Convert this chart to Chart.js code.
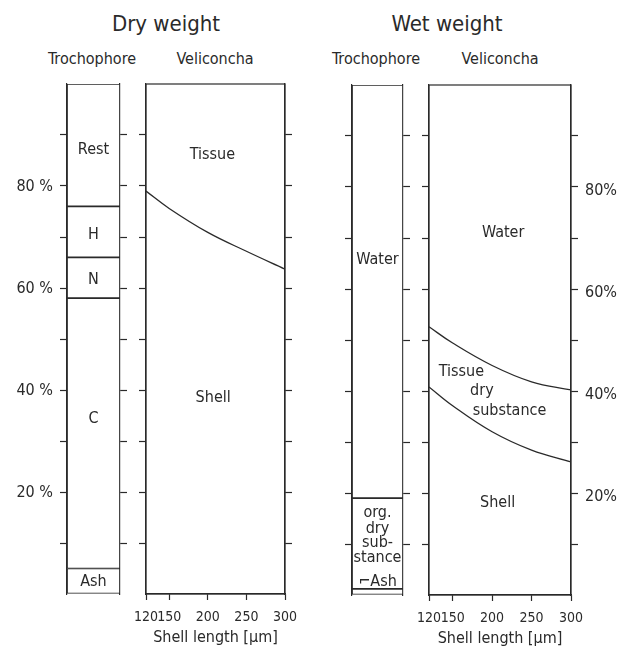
<!DOCTYPE html>
<html>
<head>
<meta charset="utf-8">
<script src="https://cdn.jsdelivr.net/npm/chart.js@4"></script>
<style>
  body { margin:0; background:#fff; width:623px; height:648px; position:relative; overflow:hidden;
         font-family:'DejaVu Sans Condensed','DejaVu Sans',sans-serif; color:#2a2a2a; }
  .box { position:absolute; }
  .t { position:absolute; white-space:nowrap; transform:translate(-50%,-50%); font-size:16px; }
  .title { font-size:22px; }
</style>
</head>
<body>
<div class="t title" style="left:166px;top:23px">Dry weight</div>
<div class="t" style="left:92px;top:58px">Trochophore</div>
<div class="t" style="left:215px;top:58px">Veliconcha</div>
<div class="t title" style="left:447px;top:23px">Wet weight</div>
<div class="t" style="left:376px;top:58px">Trochophore</div>
<div class="t" style="left:500px;top:58px">Veliconcha</div>

<script>
// values (percent of weight)
const shellLength = [120, 150, 200, 250, 300];
const dryTissueTop = [79, 75.6, 70.9, 67.2, 63.7];   // boundary shell / tissue
const wetWaterBottom = [52.6, 49.4, 45.0, 41.8, 40.2]; // boundary tissue / water
const wetShellTop = [40.8, 37.1, 32.0, 28.4, 26.1];  // boundary shell / tissue

const dryTrochParts = ['Ash', 'C', 'N', 'H', 'Rest'];
const dryTrochValues = [5, 53, 8, 10, 24];
const wetTrochParts = ['Ash', 'org. dry substance', 'Water'];
const wetTrochValues = [1.2, 17.8, 81];

const xTicks = [120, 150, 200, 250, 300];
const yLabelTicks = [20, 40, 60, 80];

// text placed in the regions, [text, x value, y value]
const dryTrochText = [['Rest', 0, 87], ['H', 0, 70.4], ['N', 0, 61.6], ['C', 0, 34.3], ['Ash', 0, 2.4]];
const dryVeliText = [['Tissue', 206, 86.1], ['Shell', 207, 38.4]];
const wetTrochText = [['Water', 0, 65.7], ['org.', 0, 16.1], ['dry', 0, 12.9], ['sub-', 0, 10.2],
                      ['stance', 0, 7.3], ['\u2310Ash', 0, 2.5]];
const wetVeliText = [['Water', 214, 71], ['Tissue', 161, 43.7], ['dry', 187, 40], ['substance', 222, 36.1],
                     ['Shell', 207, 18]];

const FONT = "'DejaVu Sans Condensed', 'DejaVu Sans', sans-serif";
const INK = '#2a2a2a';
Chart.defaults.font.family = FONT;
Chart.defaults.color = INK;
Chart.defaults.animation = false;

const frame = {
  id: 'frame',
  afterDatasetsDraw(c) {
    const a = c.chartArea, ctx = c.ctx;
    ctx.save();
    ctx.strokeStyle = INK; ctx.lineWidth = 1.2;
    ctx.strokeRect(a.left, a.top, a.right - a.left, a.bottom - a.top);
    ctx.restore();
  }
};

function regionText(items) {
  return {
    id: 'regionText',
    afterDatasetsDraw(c) {
      const ctx = c.ctx;
      ctx.save();
      ctx.fillStyle = INK;
      ctx.font = '16px ' + FONT;
      ctx.textAlign = 'center';
      ctx.textBaseline = 'middle';
      items.forEach(([txt, vx, vy]) => {
        ctx.fillText(txt, c.scales.x.getPixelForValue(vx), c.scales.y.getPixelForValue(vy));
      });
      ctx.restore();
    }
  };
}

function noPad(s) {
  s.paddingTop = 0; s.paddingBottom = 0; s.paddingLeft = 0; s.paddingRight = 0;
}

function yAxis(pos, w, fmt, shift) {
  return {
    type: 'linear', position: pos, min: 0, max: 100,
    border: { display: true, color: INK, width: 1.2 },
    grid: {
      drawOnChartArea: false, drawTicks: true, tickLength: 7, tickWidth: 1.2,
      tickColor: c => (c.tick && c.tick.value > 0 && c.tick.value < 100) ? INK : 'rgba(0,0,0,0)'
    },
    ticks: {
      stepSize: 10, autoSkip: false, display: !!fmt, padding: 7, font: { size: 16 },
      labelOffset: shift || 0,
      callback: v => (fmt && yLabelTicks.includes(v)) ? fmt(v) : ''
    },
    afterFit: s => { s.width = w; noPad(s); }
  };
}

// area = wanted chart area in page pixels
function panel(area, lw, rw, bh, config) {
  const P = 3;
  const d = document.createElement('div');
  d.className = 'box';
  d.style.left = (area.l - lw - P) + 'px';
  d.style.top = (area.t - P) + 'px';
  d.style.width = (area.r - area.l + lw + rw + 2 * P) + 'px';
  d.style.height = (area.b - area.t + bh + P + (bh ? 0 : P)) + 'px';
  const cv = document.createElement('canvas');
  d.appendChild(cv);
  document.body.appendChild(d);
  config.options.responsive = true;
  config.options.maintainAspectRatio = false;
  config.options.layout = { padding: { left: P, right: P, top: P, bottom: bh ? 0 : P } };
  config.options.plugins = { legend: { display: false }, tooltip: { enabled: false } };
  return new Chart(cv, config);
}

function trochophore(area, lw, parts, values, text, fmt) {
  return panel(area, lw, 12, 0, {
    type: 'bar',
    data: {
      labels: ['Trochophore'],
      datasets: parts.map((p, i) => ({
        label: p, data: [values[i]],
        backgroundColor: '#fff', borderColor: INK, borderWidth: 1.2, borderSkipped: false,
        barPercentage: 1, categoryPercentage: 1, yAxisID: 'y'
      }))
    },
    options: {
      scales: {
        x: { display: false, stacked: true },
        y: Object.assign(yAxis('left', lw, fmt, 1), { stacked: true }),
        y2: yAxis('right', 12, null)
      }
    },
    plugins: [regionText(text)]
  });
}

function veliconcha(area, rw, series, text, fmt) {
  return panel(area, 12, rw, 53, {
    type: 'line',
    data: {
      datasets: series.map(s => ({
        data: shellLength.map((x, i) => ({ x: x, y: s[i] })),
        borderColor: INK, borderWidth: 1.3, pointRadius: 0, tension: 0.4, fill: false
      }))
    },
    options: {
      scales: {
        x: {
          type: 'linear', position: 'bottom', min: 120, max: 300,
          afterBuildTicks: s => { s.ticks = xTicks.map(v => ({ value: v })); },
          border: { display: true, color: INK, width: 1.2 },
          grid: { drawOnChartArea: false, drawTicks: true, tickLength: 6, tickWidth: 1.2, tickColor: INK },
          ticks: { autoSkip: false, maxRotation: 0, padding: 9, font: { size: 14 } },
          title: { display: true, text: 'Shell length [\u00b5m]', font: { size: 16 }, padding: 0 },
          afterFit: s => { s.height = 53; noPad(s); }
        },
        y: yAxis('left', 12, null),
        y2: yAxis('right', rw, fmt, 4)
      }
    },
    plugins: [frame, regionText(text)]
  });
}

trochophore({ l: 67, r: 120, t: 84, b: 594 }, 60, dryTrochParts, dryTrochValues, dryTrochText, v => v + ' %');
veliconcha({ l: 146, r: 285, t: 84, b: 594 }, 12, [dryTissueTop], dryVeliText, null);
trochophore({ l: 352, r: 403, t: 85, b: 595 }, 12, wetTrochParts, wetTrochValues, wetTrochText, null);
veliconcha({ l: 429, r: 571, t: 85, b: 595 }, 52, [wetWaterBottom, wetShellTop], wetVeliText, v => v + '%');
</script>
</body>
</html>
